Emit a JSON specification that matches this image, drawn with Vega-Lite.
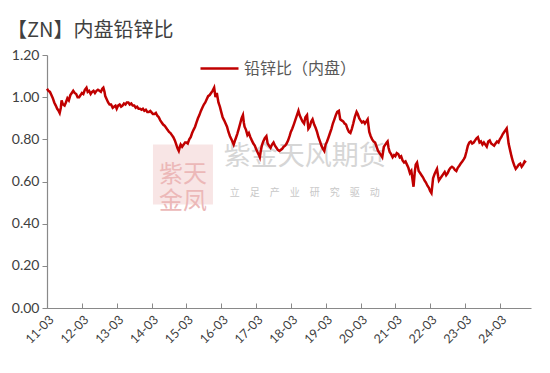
{
  "$schema": "https://vega.github.io/schema/vega-lite/v6.json",
  "width": 484,
  "height": 253,
  "autosize": {"type": "none"},
  "padding": {"left": 47, "top": 55, "right": 19, "bottom": 65},
  "background": "white",
  "config": {
    "view": {"stroke": null},
    "font": "Lato",
    "axis": {"labelOverlap": false}
  },
  "title": {
    "text": "【ZN】内盘铅锌比",
    "anchor": "start",
    "frame": "group",
    "dx": -40,
    "offset": 7,
    "font": "Noto Sans CJK SC",
    "fontSize": 20,
    "fontWeight": "normal",
    "color": "#404040"
  },
  "datasets": {
    "ratio": [
      {"date": "2011-03-01", "ratio": 1.04},
      {"date": "2011-03-16", "ratio": 1.03},
      {"date": "2011-04-01", "ratio": 1.025},
      {"date": "2011-04-16", "ratio": 1.01},
      {"date": "2011-05-01", "ratio": 0.995},
      {"date": "2011-05-16", "ratio": 0.975},
      {"date": "2011-06-01", "ratio": 0.96},
      {"date": "2011-06-16", "ratio": 0.945},
      {"date": "2011-07-01", "ratio": 0.935},
      {"date": "2011-07-12", "ratio": 0.925},
      {"date": "2011-07-24", "ratio": 0.95},
      {"date": "2011-08-01", "ratio": 0.985},
      {"date": "2011-08-16", "ratio": 0.965},
      {"date": "2011-09-01", "ratio": 0.96},
      {"date": "2011-09-15", "ratio": 0.975},
      {"date": "2011-10-01", "ratio": 0.995},
      {"date": "2011-10-16", "ratio": 0.985},
      {"date": "2011-11-01", "ratio": 1.01},
      {"date": "2011-11-16", "ratio": 1.02},
      {"date": "2011-12-01", "ratio": 1.03},
      {"date": "2011-12-16", "ratio": 1.02},
      {"date": "2012-01-01", "ratio": 1.015},
      {"date": "2012-01-16", "ratio": 1.0},
      {"date": "2012-02-01", "ratio": 1.0},
      {"date": "2012-02-16", "ratio": 1.01},
      {"date": "2012-03-01", "ratio": 1.02},
      {"date": "2012-03-16", "ratio": 1.015},
      {"date": "2012-04-01", "ratio": 1.035},
      {"date": "2012-04-18", "ratio": 1.045},
      {"date": "2012-05-01", "ratio": 1.025},
      {"date": "2012-05-16", "ratio": 1.03},
      {"date": "2012-06-01", "ratio": 1.015},
      {"date": "2012-06-16", "ratio": 1.025},
      {"date": "2012-07-01", "ratio": 1.03},
      {"date": "2012-07-16", "ratio": 1.02},
      {"date": "2012-08-01", "ratio": 1.03},
      {"date": "2012-08-16", "ratio": 1.035},
      {"date": "2012-09-01", "ratio": 1.03},
      {"date": "2012-09-16", "ratio": 1.025},
      {"date": "2012-10-01", "ratio": 1.04},
      {"date": "2012-10-12", "ratio": 1.045},
      {"date": "2012-10-24", "ratio": 1.025},
      {"date": "2012-11-01", "ratio": 1.005},
      {"date": "2012-11-16", "ratio": 0.99},
      {"date": "2012-12-01", "ratio": 0.975},
      {"date": "2012-12-16", "ratio": 0.965},
      {"date": "2013-01-01", "ratio": 0.965},
      {"date": "2013-01-18", "ratio": 0.95},
      {"date": "2013-02-01", "ratio": 0.955},
      {"date": "2013-02-16", "ratio": 0.96},
      {"date": "2013-03-01", "ratio": 0.945},
      {"date": "2013-03-16", "ratio": 0.96},
      {"date": "2013-04-01", "ratio": 0.965},
      {"date": "2013-04-16", "ratio": 0.955},
      {"date": "2013-05-01", "ratio": 0.96},
      {"date": "2013-05-16", "ratio": 0.97},
      {"date": "2013-06-01", "ratio": 0.965},
      {"date": "2013-06-15", "ratio": 0.975},
      {"date": "2013-07-01", "ratio": 0.975},
      {"date": "2013-07-16", "ratio": 0.965},
      {"date": "2013-08-01", "ratio": 0.97},
      {"date": "2013-08-16", "ratio": 0.96},
      {"date": "2013-09-01", "ratio": 0.96},
      {"date": "2013-09-16", "ratio": 0.95},
      {"date": "2013-10-01", "ratio": 0.955},
      {"date": "2013-10-16", "ratio": 0.945},
      {"date": "2013-11-01", "ratio": 0.945},
      {"date": "2013-11-16", "ratio": 0.94},
      {"date": "2013-12-01", "ratio": 0.945},
      {"date": "2013-12-16", "ratio": 0.935},
      {"date": "2014-01-01", "ratio": 0.94},
      {"date": "2014-01-16", "ratio": 0.93},
      {"date": "2014-02-01", "ratio": 0.93},
      {"date": "2014-02-16", "ratio": 0.935},
      {"date": "2014-03-01", "ratio": 0.928},
      {"date": "2014-03-16", "ratio": 0.92},
      {"date": "2014-04-01", "ratio": 0.92},
      {"date": "2014-04-16", "ratio": 0.925},
      {"date": "2014-05-01", "ratio": 0.912},
      {"date": "2014-05-16", "ratio": 0.905},
      {"date": "2014-06-01", "ratio": 0.89},
      {"date": "2014-06-16", "ratio": 0.88},
      {"date": "2014-07-01", "ratio": 0.87},
      {"date": "2014-07-16", "ratio": 0.865},
      {"date": "2014-08-01", "ratio": 0.855},
      {"date": "2014-08-16", "ratio": 0.845},
      {"date": "2014-09-01", "ratio": 0.835},
      {"date": "2014-09-16", "ratio": 0.83},
      {"date": "2014-10-01", "ratio": 0.82},
      {"date": "2014-10-16", "ratio": 0.81},
      {"date": "2014-11-01", "ratio": 0.795},
      {"date": "2014-11-16", "ratio": 0.775},
      {"date": "2014-12-01", "ratio": 0.755},
      {"date": "2014-12-12", "ratio": 0.745},
      {"date": "2014-12-24", "ratio": 0.765},
      {"date": "2015-01-01", "ratio": 0.775},
      {"date": "2015-01-16", "ratio": 0.765},
      {"date": "2015-02-01", "ratio": 0.775},
      {"date": "2015-02-16", "ratio": 0.785},
      {"date": "2015-03-01", "ratio": 0.785},
      {"date": "2015-03-16", "ratio": 0.78},
      {"date": "2015-04-01", "ratio": 0.8},
      {"date": "2015-04-16", "ratio": 0.81},
      {"date": "2015-05-01", "ratio": 0.83},
      {"date": "2015-05-16", "ratio": 0.845},
      {"date": "2015-06-01", "ratio": 0.86},
      {"date": "2015-06-16", "ratio": 0.88},
      {"date": "2015-07-01", "ratio": 0.9},
      {"date": "2015-07-16", "ratio": 0.915},
      {"date": "2015-08-01", "ratio": 0.935},
      {"date": "2015-08-16", "ratio": 0.95},
      {"date": "2015-09-01", "ratio": 0.965},
      {"date": "2015-09-16", "ratio": 0.975},
      {"date": "2015-10-01", "ratio": 0.99},
      {"date": "2015-10-16", "ratio": 1.005},
      {"date": "2015-11-01", "ratio": 1.01},
      {"date": "2015-11-16", "ratio": 1.02},
      {"date": "2015-12-01", "ratio": 1.03},
      {"date": "2015-12-18", "ratio": 1.045},
      {"date": "2016-01-01", "ratio": 1.0},
      {"date": "2016-01-15", "ratio": 1.02},
      {"date": "2016-02-01", "ratio": 0.975},
      {"date": "2016-02-16", "ratio": 0.955},
      {"date": "2016-03-01", "ratio": 0.93},
      {"date": "2016-03-16", "ratio": 0.905},
      {"date": "2016-04-01", "ratio": 0.89},
      {"date": "2016-04-16", "ratio": 0.875},
      {"date": "2016-05-01", "ratio": 0.86},
      {"date": "2016-05-16", "ratio": 0.835},
      {"date": "2016-06-01", "ratio": 0.815},
      {"date": "2016-06-16", "ratio": 0.8},
      {"date": "2016-07-01", "ratio": 0.785},
      {"date": "2016-07-10", "ratio": 0.775},
      {"date": "2016-07-24", "ratio": 0.795},
      {"date": "2016-08-01", "ratio": 0.805},
      {"date": "2016-08-16", "ratio": 0.825},
      {"date": "2016-09-01", "ratio": 0.85},
      {"date": "2016-09-16", "ratio": 0.875},
      {"date": "2016-10-01", "ratio": 0.9},
      {"date": "2016-10-15", "ratio": 0.915},
      {"date": "2016-10-24", "ratio": 0.88},
      {"date": "2016-11-01", "ratio": 0.86},
      {"date": "2016-11-16", "ratio": 0.845},
      {"date": "2016-12-01", "ratio": 0.82},
      {"date": "2016-12-16", "ratio": 0.83},
      {"date": "2017-01-01", "ratio": 0.81},
      {"date": "2017-01-16", "ratio": 0.795},
      {"date": "2017-02-01", "ratio": 0.78},
      {"date": "2017-02-16", "ratio": 0.77},
      {"date": "2017-03-01", "ratio": 0.755},
      {"date": "2017-03-16", "ratio": 0.74},
      {"date": "2017-04-01", "ratio": 0.725},
      {"date": "2017-04-10", "ratio": 0.715},
      {"date": "2017-04-20", "ratio": 0.745},
      {"date": "2017-05-01", "ratio": 0.77},
      {"date": "2017-05-16", "ratio": 0.79},
      {"date": "2017-06-01", "ratio": 0.805},
      {"date": "2017-06-18", "ratio": 0.815},
      {"date": "2017-07-01", "ratio": 0.78},
      {"date": "2017-07-16", "ratio": 0.77},
      {"date": "2017-08-01", "ratio": 0.76},
      {"date": "2017-08-16", "ratio": 0.775},
      {"date": "2017-09-01", "ratio": 0.785},
      {"date": "2017-09-16", "ratio": 0.77},
      {"date": "2017-10-01", "ratio": 0.76},
      {"date": "2017-10-16", "ratio": 0.75},
      {"date": "2017-11-01", "ratio": 0.745},
      {"date": "2017-11-16", "ratio": 0.75},
      {"date": "2017-12-01", "ratio": 0.755},
      {"date": "2017-12-16", "ratio": 0.765},
      {"date": "2018-01-01", "ratio": 0.77},
      {"date": "2018-01-16", "ratio": 0.78},
      {"date": "2018-02-01", "ratio": 0.795},
      {"date": "2018-02-16", "ratio": 0.815},
      {"date": "2018-03-01", "ratio": 0.835},
      {"date": "2018-03-16", "ratio": 0.85},
      {"date": "2018-04-01", "ratio": 0.87},
      {"date": "2018-04-16", "ratio": 0.89},
      {"date": "2018-05-01", "ratio": 0.91},
      {"date": "2018-05-20", "ratio": 0.935},
      {"date": "2018-06-01", "ratio": 0.915},
      {"date": "2018-06-16", "ratio": 0.9},
      {"date": "2018-07-01", "ratio": 0.885},
      {"date": "2018-07-18", "ratio": 0.875},
      {"date": "2018-08-01", "ratio": 0.905},
      {"date": "2018-08-18", "ratio": 0.915},
      {"date": "2018-09-01", "ratio": 0.85},
      {"date": "2018-09-16", "ratio": 0.86},
      {"date": "2018-10-01", "ratio": 0.885},
      {"date": "2018-10-15", "ratio": 0.895},
      {"date": "2018-11-01", "ratio": 0.87},
      {"date": "2018-11-16", "ratio": 0.855},
      {"date": "2018-12-01", "ratio": 0.835},
      {"date": "2018-12-16", "ratio": 0.81},
      {"date": "2019-01-01", "ratio": 0.79},
      {"date": "2019-01-16", "ratio": 0.77},
      {"date": "2019-02-01", "ratio": 0.755},
      {"date": "2019-02-15", "ratio": 0.745},
      {"date": "2019-03-01", "ratio": 0.775},
      {"date": "2019-03-16", "ratio": 0.79},
      {"date": "2019-04-01", "ratio": 0.81},
      {"date": "2019-04-16", "ratio": 0.83},
      {"date": "2019-05-01", "ratio": 0.85},
      {"date": "2019-05-16", "ratio": 0.875},
      {"date": "2019-06-01", "ratio": 0.895},
      {"date": "2019-06-16", "ratio": 0.915},
      {"date": "2019-07-01", "ratio": 0.93},
      {"date": "2019-07-18", "ratio": 0.935},
      {"date": "2019-08-01", "ratio": 0.895},
      {"date": "2019-08-16", "ratio": 0.89},
      {"date": "2019-09-01", "ratio": 0.885},
      {"date": "2019-09-16", "ratio": 0.875},
      {"date": "2019-10-01", "ratio": 0.87},
      {"date": "2019-10-16", "ratio": 0.85},
      {"date": "2019-11-01", "ratio": 0.835},
      {"date": "2019-11-16", "ratio": 0.83},
      {"date": "2019-12-01", "ratio": 0.85},
      {"date": "2019-12-16", "ratio": 0.875},
      {"date": "2020-01-01", "ratio": 0.905},
      {"date": "2020-01-20", "ratio": 0.93},
      {"date": "2020-02-01", "ratio": 0.92},
      {"date": "2020-02-16", "ratio": 0.9},
      {"date": "2020-03-01", "ratio": 0.89},
      {"date": "2020-03-16", "ratio": 0.88},
      {"date": "2020-04-01", "ratio": 0.885},
      {"date": "2020-04-16", "ratio": 0.875},
      {"date": "2020-05-01", "ratio": 0.885},
      {"date": "2020-05-15", "ratio": 0.895},
      {"date": "2020-06-01", "ratio": 0.835},
      {"date": "2020-06-16", "ratio": 0.815},
      {"date": "2020-07-01", "ratio": 0.8},
      {"date": "2020-07-16", "ratio": 0.79},
      {"date": "2020-08-01", "ratio": 0.785},
      {"date": "2020-08-16", "ratio": 0.765},
      {"date": "2020-09-01", "ratio": 0.745},
      {"date": "2020-09-16", "ratio": 0.735},
      {"date": "2020-10-01", "ratio": 0.725},
      {"date": "2020-10-15", "ratio": 0.715},
      {"date": "2020-11-01", "ratio": 0.765},
      {"date": "2020-11-16", "ratio": 0.775},
      {"date": "2020-12-01", "ratio": 0.785},
      {"date": "2020-12-10", "ratio": 0.79},
      {"date": "2020-12-20", "ratio": 0.76},
      {"date": "2021-01-01", "ratio": 0.74},
      {"date": "2021-01-16", "ratio": 0.73},
      {"date": "2021-02-01", "ratio": 0.715},
      {"date": "2021-02-16", "ratio": 0.725},
      {"date": "2021-03-01", "ratio": 0.72},
      {"date": "2021-03-16", "ratio": 0.735},
      {"date": "2021-04-01", "ratio": 0.73},
      {"date": "2021-04-16", "ratio": 0.715},
      {"date": "2021-05-01", "ratio": 0.72},
      {"date": "2021-05-16", "ratio": 0.7},
      {"date": "2021-06-01", "ratio": 0.69},
      {"date": "2021-06-16", "ratio": 0.695},
      {"date": "2021-07-01", "ratio": 0.68},
      {"date": "2021-07-16", "ratio": 0.665},
      {"date": "2021-08-01", "ratio": 0.64},
      {"date": "2021-08-16", "ratio": 0.65},
      {"date": "2021-09-08", "ratio": 0.575},
      {"date": "2021-09-20", "ratio": 0.64},
      {"date": "2021-10-01", "ratio": 0.68},
      {"date": "2021-10-15", "ratio": 0.69},
      {"date": "2021-11-01", "ratio": 0.65},
      {"date": "2021-11-16", "ratio": 0.64},
      {"date": "2021-12-01", "ratio": 0.63},
      {"date": "2021-12-16", "ratio": 0.62},
      {"date": "2022-01-01", "ratio": 0.605},
      {"date": "2022-01-16", "ratio": 0.595},
      {"date": "2022-02-01", "ratio": 0.58},
      {"date": "2022-02-16", "ratio": 0.57},
      {"date": "2022-03-01", "ratio": 0.555},
      {"date": "2022-03-15", "ratio": 0.545},
      {"date": "2022-03-24", "ratio": 0.58},
      {"date": "2022-04-01", "ratio": 0.615},
      {"date": "2022-04-16", "ratio": 0.635},
      {"date": "2022-05-01", "ratio": 0.65},
      {"date": "2022-05-12", "ratio": 0.66},
      {"date": "2022-05-24", "ratio": 0.625},
      {"date": "2022-06-01", "ratio": 0.605},
      {"date": "2022-06-16", "ratio": 0.615},
      {"date": "2022-07-01", "ratio": 0.625},
      {"date": "2022-07-16", "ratio": 0.635},
      {"date": "2022-08-01", "ratio": 0.645},
      {"date": "2022-08-16", "ratio": 0.63},
      {"date": "2022-09-01", "ratio": 0.64},
      {"date": "2022-09-16", "ratio": 0.655},
      {"date": "2022-10-01", "ratio": 0.665},
      {"date": "2022-10-16", "ratio": 0.67},
      {"date": "2022-11-01", "ratio": 0.665},
      {"date": "2022-11-16", "ratio": 0.655},
      {"date": "2022-12-01", "ratio": 0.65},
      {"date": "2022-12-16", "ratio": 0.665},
      {"date": "2023-01-01", "ratio": 0.675},
      {"date": "2023-01-16", "ratio": 0.685},
      {"date": "2023-02-01", "ratio": 0.695},
      {"date": "2023-02-16", "ratio": 0.705},
      {"date": "2023-03-01", "ratio": 0.715},
      {"date": "2023-03-16", "ratio": 0.74},
      {"date": "2023-04-01", "ratio": 0.77},
      {"date": "2023-04-16", "ratio": 0.785},
      {"date": "2023-05-01", "ratio": 0.79},
      {"date": "2023-05-16", "ratio": 0.78},
      {"date": "2023-06-01", "ratio": 0.785},
      {"date": "2023-06-16", "ratio": 0.795},
      {"date": "2023-07-01", "ratio": 0.805},
      {"date": "2023-07-15", "ratio": 0.81},
      {"date": "2023-08-01", "ratio": 0.785},
      {"date": "2023-08-16", "ratio": 0.79},
      {"date": "2023-09-01", "ratio": 0.775},
      {"date": "2023-09-16", "ratio": 0.785},
      {"date": "2023-10-01", "ratio": 0.775},
      {"date": "2023-10-16", "ratio": 0.765},
      {"date": "2023-11-01", "ratio": 0.79},
      {"date": "2023-11-16", "ratio": 0.795},
      {"date": "2023-12-01", "ratio": 0.78},
      {"date": "2023-12-16", "ratio": 0.775},
      {"date": "2024-01-01", "ratio": 0.77},
      {"date": "2024-01-16", "ratio": 0.78},
      {"date": "2024-02-01", "ratio": 0.79},
      {"date": "2024-02-16", "ratio": 0.785},
      {"date": "2024-03-01", "ratio": 0.8},
      {"date": "2024-03-16", "ratio": 0.81},
      {"date": "2024-04-01", "ratio": 0.825},
      {"date": "2024-04-16", "ratio": 0.835},
      {"date": "2024-05-01", "ratio": 0.845},
      {"date": "2024-05-12", "ratio": 0.852},
      {"date": "2024-05-24", "ratio": 0.81},
      {"date": "2024-06-01", "ratio": 0.78},
      {"date": "2024-06-16", "ratio": 0.75},
      {"date": "2024-07-01", "ratio": 0.72},
      {"date": "2024-07-16", "ratio": 0.695},
      {"date": "2024-08-01", "ratio": 0.675},
      {"date": "2024-08-15", "ratio": 0.66},
      {"date": "2024-09-01", "ratio": 0.67},
      {"date": "2024-09-16", "ratio": 0.68},
      {"date": "2024-10-01", "ratio": 0.685},
      {"date": "2024-10-16", "ratio": 0.67},
      {"date": "2024-11-01", "ratio": 0.68},
      {"date": "2024-11-16", "ratio": 0.695},
      {"date": "2024-12-01", "ratio": 0.69}
    ],
    "mark": [{"label": "watermark"}]
  },
  "layer": [
    {
      "data": {"name": "mark"},
      "mark": {"type": "square", "size": 3600, "color": "#f7e0e0", "opacity": 0.85},
      "encoding": {
        "x": {"datum": {"year": 2015, "month": 1, "date": 25}, "type": "temporal"},
        "y": {"datum": 0.633, "type": "quantitative"}
      }
    },
    {
      "data": {"name": "mark"},
      "mark": {"type": "text", "text": ["紫天", "金凤"], "font": "Noto Sans CJK SC", "fontSize": 24, "color": "#ecb8b8", "align": "center", "baseline": "middle", "lineHeight": 27},
      "encoding": {
        "x": {"datum": {"year": 2015, "month": 1, "date": 25}, "type": "temporal"},
        "y": {"datum": 0.633, "type": "quantitative"}
      }
    },
    {
      "data": {"name": "mark"},
      "mark": {"type": "text", "text": "紫金天风期货", "font": "Noto Sans CJK SC", "fontSize": 27, "color": "#d6d6d6", "align": "center", "baseline": "middle"},
      "encoding": {
        "x": {"datum": {"year": 2018, "month": 7, "date": 25}, "type": "temporal"},
        "y": {"datum": 0.714, "type": "quantitative"}
      }
    },
    {
      "data": {"name": "mark"},
      "mark": {"type": "text", "text": "立　足　产　业　研　究　驱　动", "font": "Noto Sans CJK SC", "fontSize": 10, "color": "#c8c8c8", "align": "center", "baseline": "middle"},
      "encoding": {
        "x": {"datum": {"year": 2018, "month": 7, "date": 25}, "type": "temporal"},
        "y": {"datum": 0.547, "type": "quantitative"}
      }
    },
    {
      "data": {"name": "ratio"},
      "mark": {"type": "line", "strokeWidth": 2.5, "interpolate": "linear"},
      "encoding": {
        "x": {
          "field": "date",
          "type": "temporal",
          "scale": {"domain": [{"year": 2011, "month": 3, "date": 1}, {"year": 2025, "month": 1, "date": 22}]},
          "axis": {
            "title": null,
            "grid": false,
            "format": "%y-%m",
            "tickCount": 30,
            "values": [
              {"year": 2011, "month": 3, "date": 1},
              {"year": 2012, "month": 3, "date": 1},
              {"year": 2013, "month": 3, "date": 1},
              {"year": 2014, "month": 3, "date": 1},
              {"year": 2015, "month": 3, "date": 1},
              {"year": 2016, "month": 3, "date": 1},
              {"year": 2017, "month": 3, "date": 1},
              {"year": 2018, "month": 3, "date": 1},
              {"year": 2019, "month": 3, "date": 1},
              {"year": 2020, "month": 3, "date": 1},
              {"year": 2021, "month": 3, "date": 1},
              {"year": 2022, "month": 3, "date": 1},
              {"year": 2023, "month": 3, "date": 1},
              {"year": 2024, "month": 3, "date": 1}
            ],
            "labelAngle": -45,
            "labelFontSize": 12.5,
            "labelColor": "#404040",
            "labelFont": "Lato",
            "labelPadding": 10,
            "labelOverlap": false,
            "labelFlush": false,
            "tickSize": -5,
            "tickColor": "#898989",
            "domainColor": "#898989",
            "domainWidth": 1.2
          }
        },
        "y": {
          "field": "ratio",
          "type": "quantitative",
          "scale": {"domain": [0, 1.2], "nice": false, "zero": true},
          "axis": {
            "title": null,
            "grid": false,
            "values": [0, 0.2, 0.4, 0.6, 0.8, 1.0, 1.2],
            "format": ".2f",
            "labelFontSize": 14,
            "labelColor": "#404040",
            "labelFont": "Lato",
            "labelPadding": 3,
            "tickSize": 5,
            "tickColor": "#898989",
            "domainColor": "#898989",
            "domainWidth": 1.2
          }
        },
        "color": {
          "datum": "铅锌比（内盘）",
          "type": "nominal",
          "scale": {"range": ["#C00000"]},
          "legend": {
            "title": null,
            "orient": "none",
            "legendX": 152,
            "legendY": -7,
            "symbolType": "stroke",
            "symbolSize": 1444,
            "symbolStrokeWidth": 2.5,
            "labelFont": "Noto Sans CJK SC",
            "labelFontSize": 16,
            "labelColor": "#595959",
            "labelOffset": 4,
            "padding": 0
          }
        }
      }
    }
  ]
}
